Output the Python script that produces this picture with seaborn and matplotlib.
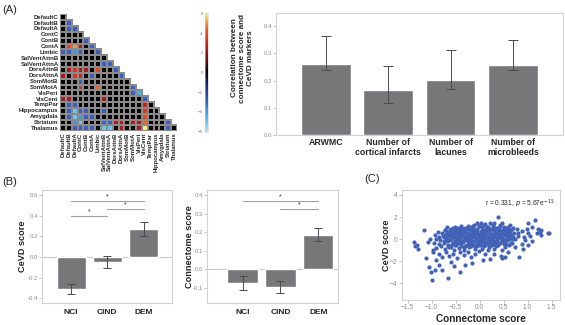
import numpy as np
import pandas as pd
import matplotlib
matplotlib.use("Agg")
import matplotlib.pyplot as plt
import seaborn as sns
from matplotlib.colors import LinearSegmentedColormap, to_rgba

# ---- (A) network t-map, lower triangle, one list per row ----
networks = ["DefaultC", "DefaultB", "DefaultA", "ContC", "ContB", "ContA", "Limbic",
            "SalVentAttnB", "SalVentAttnA", "DorsAttnB", "DorsAttnA", "SomMotB", "SomMotA",
            "VisPeri", "VisCent", "TempPar", "Hippocampus", "Amygdala", "Striatum", "Thalamus"]

tri_rows = [
    [0],
    [0, -3],
    [0, -3, -3],
    [0, 0, 0, 0],
    [0, 0, 0, 0, -3],
    [0, 4, 5, 2.5, 0, -3],
    [-3, -3, -4, -3, 0, 0, -3],
    [0, 0, 0, 0, 0, 0, 0, 0],
    [0, 0, 0, 0, 0, 0, 0, -3, -3],
    [0, 2.5, 3.5, 2.5, 2.5, 0, 4, 0, 0, -3],
    [2.5, 0, 3.5, 3, 0, -3, 0, 0, 0, 0, -3],
    [0, 0, 0, -3, 0, 0, 0, 0, 0, 0, 0, 0],
    [0, 0, 0, 3.5, 0, 0, 4.5, 0, 0, 0, 0, 0, -3],
    [0, 0, 0, 0, 0, 0, 0, 0, 0, 0, 0, 0, -3, -4.5],
    [2.5, 2.5, 0, 0, 0, 0, 0, 2.5, 0, 0, 0, 0, 0, 0, -3],
    [0, -3, -3, 0, 0, 0, 0, 0, 0, 0, 0, 0, 0, 0, 3, 0],
    [0, -3, -5, -3, -3, 0, 0, -3, 0, 0, 0, 0, 0, 0, 3.5, 0, 0],
    [0, -3, -5, -4, -3, -3, 0, 0, 0, 0, 0, 0, 0, 0, 4, 0, 0, 0],
    [0, 0, -4, -5, 0, 0, 0, -3, -3, 2.5, 2.5, 0, 2.5, 2.5, 4.5, 0, 0, 0, -3],
    [0, 0, -3, -3, -3, -3, 0, -5, -5, 0, 2.5, 0, 0, 2.5, 6, 0, 0, 0, -3, 0],
]

# ---- (A) correlation with CeVD markers ----
markers = ["ARWMC", "Number of\ncortical infarcts", "Number of\nlacunes", "Number of\nmicrobleeds"]
corr = [0.262, 0.164, 0.202, 0.259]
corr_lo = [0.240, 0.118, 0.170, 0.238]
corr_hi = [0.362, 0.255, 0.311, 0.350]

# ---- (B) group means ----
groups = ["NCI", "CIND", "DEM"]
cevd = [-0.305, -0.047, 0.271]
cevd_lo = [-0.360, -0.102, 0.199]
cevd_hi = [-0.257, 0.007, 0.343]
cevd_sig = [(0, 2, 0.545), (1, 2, 0.462), (0, 1, 0.397)]

conn = [-0.074, -0.097, 0.185]
conn_lo = [-0.115, -0.128, 0.150]
conn_hi = [-0.036, -0.066, 0.222]
conn_sig = [(0, 2, 0.368), (1, 2, 0.324)]

# ---- (C) connectome score vs CeVD score ----
scat_x = [-0.69, -0.6, -0.51, -0.45, -0.38, -0.3, -0.25, -0.18, -0.12, -0.06, 0.03, 0.08, 0.12, 0.18,
          0.22, 0.28, 0.33, 0.39, 0.42, 0.46, 0.5, 0.55, 0.63, 0.7, 0.78, -0.55, -0.02, 0.3, 0.15, -0.35,
          -0.86, -0.78, -0.72, -0.66, -0.6, -0.55, -0.5, -0.45, -0.4, -0.36, -0.3, -0.26, -0.2, -0.16,
          -0.1, -0.05, 0.0, 0.05, 0.1, 0.14, 0.2, 0.24, 0.3, 0.35, 0.4, 0.45, 0.5, 0.55, 0.6, 0.66, 0.72,
          0.81, 0.88, -0.62, -0.42, -0.08, 0.27, 0.58, -0.7, 0.12,
          -0.94, -0.85, -0.76, -0.7, -0.64, -0.58, -0.52, -0.47, -0.42, -0.37, -0.32, -0.27, -0.22, -0.17,
          -0.12, -0.07, -0.02, 0.03, 0.08, 0.13, 0.18, 0.23, 0.28, 0.33, 0.38, 0.43, 0.48, 0.53, 0.58,
          0.63, 0.68, 0.74, 0.8, 1.01, 1.28, -1.03, -0.9, -0.6, 0.0, 0.35, -0.25, 0.55,
          -1.08, -0.95, -0.82, -0.75, -0.68, -0.62, -0.56, -0.5, -0.45, -0.4, -0.34, -0.28, -0.23, -0.18,
          -0.13, -0.08, -0.03, 0.02, 0.07, 0.12, 0.17, 0.22, 0.27, 0.32, 0.37, 0.42, 0.47, 0.52, 0.6,
          0.66, 0.875, 0.95, -0.85, 0.05, -0.38,
          -0.9, -0.8, -0.72, -0.66, -0.6, -0.54, -0.5, -0.44, -0.38, -0.32, -0.27, -0.22, -0.16, -0.1,
          -0.05, 0.0, 0.05, 0.1, 0.15, 0.2, 0.25, 0.3, 0.38, 0.46, 0.52, 0.74, 0.62, -0.97, 0.18,
          -1.12, -0.97, -0.92, -0.85, -0.78, -0.7, -0.63, -0.55, -0.47, -0.4, -0.33, -0.25, -0.18, -0.1,
          -0.02, 0.08, 0.22, 0.3, 0.44, 0.47, 0.53, 0.83, 0.6, 0.12,
          -1.06, -1.01, -1.0, -0.93, -0.79, -0.67, -0.53, -0.41, -0.31, -0.15, -0.6, -0.85,
          -1.17, -1.36, -1.3, -1.35, -1.29,
          1.15, 1.26, 1.43, 1.0, 1.1, 1.21, 1.29, 1.44, 0.98, 1.05, 1.2, 0.92, 1.1, 0.9, 1.0,
          -0.48, -0.33, -0.14, 0.07, 0.22, 0.38, 0.52, -0.55, -0.4, -0.12, 0.05, 0.25, 0.45, 0.65, -0.65,
          -0.48, -0.2, 0.1, 0.3, 0.5, -0.3, -0.05, 0.25, -0.75, 0.7,
          -0.73, -0.67, -0.61, -0.57, -0.53, -0.49, -0.43, -0.39, -0.35, -0.31, -0.27, -0.23, -0.19,
          -0.15, -0.11, -0.07, -0.03, 0.01, 0.05, 0.09, 0.13, 0.17, 0.21, 0.25, 0.29, 0.33, 0.37, 0.41,
          0.45, 0.49, 0.53, 0.57, 0.61, 0.65,
          -0.71, -0.65, -0.59, -0.55, -0.51, -0.47, -0.41, -0.37, -0.33, -0.29, -0.25, -0.21, -0.17,
          -0.13, -0.09, -0.05, -0.01, 0.03, 0.07, 0.11, 0.15, 0.19, 0.23, 0.27, 0.31, 0.35, 0.39, 0.43,
          0.47, 0.51, 0.55, 0.59, 0.63, 0.67,
          -0.75, -0.69, -0.63, -0.59, -0.55, -0.51, -0.45, -0.41, -0.37, -0.33, -0.29, -0.25, -0.21,
          -0.17, -0.13, -0.09, -0.05, -0.01, 0.03, 0.07, 0.11, 0.15, 0.19, 0.23, 0.27, 0.31, 0.35, 0.39,
          0.43, 0.47, 0.51, 0.55, 0.59, 0.63]
scat_y = [1.06, 0.95, 1.12, 1.0, 1.18, 1.05, 1.2, 1.1, 1.3, 1.42, 1.48, 1.2, 1.35, 1.1,
          1.42, 1.25, 1.05, 1.97, 1.2, 1.42, 1.1, 0.95, 1.27, 1.0, 0.9, 1.05, 1.15, 1.5, 1.0, 0.95,
          0.67, 0.55, 0.8, 0.5, 0.7, 0.45, 0.85, 0.6, 0.75, 0.5, 0.85, 0.6, 0.45, 0.8,
          0.6, 0.9, 0.5, 0.75, 0.55, 0.85, 0.65, 0.45, 0.8, 0.55, 0.9, 0.65, 0.45, 0.75, 0.55, 0.8, 0.6,
          0.52, 0.7, 0.6, 0.45, 0.45, 0.95, 0.9, 0.45, 0.7,
          0.36, 0.2, 0.3, 0.1, 0.35, 0.15, 0.3, 0.05, 0.25, 0.38, 0.1, 0.3, 0.05, 0.25,
          0.4, 0.12, 0.3, 0.05, 0.35, 0.15, 0.3, 0.05, 0.25, 0.4, 0.1, 0.3, 0.05, 0.35, 0.15,
          0.3, 0.05, 0.06, 0.25, 0.52, 0.36, 0.06, 0.05, 0.0, 0.2, 0.2, 0.18, 0.0,
          -0.24, -0.3, -0.1, -0.35, -0.2, -0.05, -0.3, -0.15, -0.38, -0.05, -0.25, -0.1, -0.35, -0.15,
          -0.3, -0.05, -0.25, -0.4, -0.1, -0.3, -0.15, -0.38, -0.05, -0.25, -0.1, -0.35, -0.15, -0.3, -0.1,
          -0.3, -0.39, -0.1, -0.4, -0.22, -0.2,
          -0.8, -0.6, -0.9, -0.55, -0.75, -1.0, -0.5, -0.8, -0.6, -0.95, -0.5, -0.75, -0.55, -0.9,
          -0.65, -0.5, -0.85, -0.6, -0.45, -0.7, -0.55, -0.85, -0.5, -1.0, -0.7, -0.7, -0.5, -1.0, -0.95,
          -1.67, -1.15, -1.9, -1.3, -1.6, -1.2, -1.5, -1.3, -1.7, -1.15, -1.45, -1.2, -1.6, -1.3,
          -1.1, -1.9, -1.76, -1.3, -1.55, -1.67, -1.6, -1.6, -1.2, -1.35,
          -2.5, -2.97, -3.67, -2.8, -2.76, -3.5, -2.45, -2.97, -2.36, -2.15, -2.1, -2.3,
          0.82, -0.24, -0.55, -0.64, -0.85,
          1.73, 0.67, 0.58, 1.42, 1.12, 0.88, 0.82, 0.6, 0.9, 0.3, 0.6, 0.2, -0.2, -0.9, -0.5,
          0.55, 0.62, 0.52, 0.6, 0.78, 0.68, 0.58, 0.2, 0.15, 0.2, 0.42, 0.15, 0.42, 0.42, -0.1,
          -0.25, -0.25, -0.15, -0.4, -0.45, -0.6, -0.4, -0.2, 0.2, 0.2,
          0.85, 0.25, 0.8, -0.45, 0.6, 0.1, 0.95, -0.3, 0.35, 0.7, -0.5, 1.0, 0.15,
          0.55, -0.2, 0.85, 0.45, -0.1, 1.1, 0.3, -0.45, 0.65, 0.95, 0.4, -0.15, 0.6, 1.05, 0.5,
          0.2, 0.85, -0.25, 0.45, 0.95, 0.15,
          0.35, -0.6, 0.05, 0.8, -0.2, 0.7, 0.4, 0.95, -0.05, 0.2, 0.9, 0.5, -0.6,
          1.15, 0.65, 0.0, -0.45, 0.75, 0.2, -0.3, 0.9, 0.05, -0.2, 1.2, 0.8, -0.4, 0.1, 1.25,
          -0.1, 0.55, 0.35, 1.1, 0.6, -0.35,
          -0.15, 0.65, -0.75, 0.4, 0.9, -0.55, 0.2, 0.55, 0.9, -0.7, 0.25, -0.15, 0.85,
          -0.35, 1.05, -0.6, 0.7, 1.2, -0.5, 0.85, 0.45, 1.1, 0.1, -0.55, 0.45, 0.95, -0.6, -0.35,
          0.75, 0.1, 1.0, -0.45, 0.25, 0.7]

BAR = "#77777a"
FRAME = "#d2d2d2"
TICK = "#8c8c8c"

sns.set_style("white")
plt.rcParams["font.family"] = ["Liberation Sans", "DejaVu Sans"]

fig = plt.figure(figsize=(5.65, 3.25), dpi=100)


def style_axes(ax, tsize=4.3):
    for s in ax.spines.values():
        s.set_color(FRAME)
        s.set_linewidth(0.8)
    ax.tick_params(axis="y", left=True, length=2, width=0.5, color="#b0b0b0",
                   labelsize=tsize, labelcolor=TICK, pad=1)
    ax.tick_params(axis="x", length=0, pad=3)


# ---------- (A) heatmap ----------
n = len(networks)
tmap = np.zeros((n, n))
for i, row in enumerate(tri_rows):
    tmap[i, :len(row)] = row
mask = np.triu(np.ones((n, n), dtype=bool), k=1)

cmap = LinearSegmentedColormap.from_list(
    "tmap", [(0.0, "#b4e6ee"), (0.12, "#4ab8ee"), (0.25, "#3a5ec8"), (0.38, "#1c2a78"),
             (0.5, "#000000"), (0.62, "#6e1010"), (0.75, "#cc2020"), (0.87, "#f05a20"),
             (1.0, "#f8f278")])

axh = fig.add_axes([0.1062, 0.596, 0.2071, 0.36])
sns.heatmap(pd.DataFrame(tmap, index=networks, columns=networks), mask=mask, cmap=cmap,
            vmin=-6, vmax=6, cbar=False, linewidths=0.2, linecolor="#8a8a8a",
            square=False, ax=axh)
# no grid lines on the blank upper triangle
mesh = axh.collections[0]
edge = np.zeros((n * n, 4))
edge[~mask.ravel()] = to_rgba("#8a8a8a")
mesh.set_edgecolor(edge)

axh.set_xticks(np.arange(n) + 0.5)
axh.set_yticks(np.arange(n) + 0.5)
axh.set_xticklabels(networks, rotation=90, fontsize=4.3, fontweight="bold")
axh.set_yticklabels(networks, rotation=0, fontsize=4.3, fontweight="bold")
axh.tick_params(length=0, pad=1)
axh.set_xlabel("")
axh.set_ylabel("")

cax = fig.add_axes([0.3628, 0.595, 0.0045, 0.364])
cb = fig.colorbar(mesh, cax=cax, ticks=[-6, -4, -2, 0, 2, 4, 6])
cax.yaxis.set_ticks_position("left")
cax.tick_params(labelsize=3.2, labelcolor="#777777", length=0, pad=1.5)
cb.outline.set_edgecolor("#cccccc")
cb.outline.set_linewidth(0.4)

# ---------- (A) bar chart ----------
axa = fig.add_axes([0.4885, 0.5846, 0.5074, 0.376])
dfa = pd.DataFrame({"marker": markers, "r": corr})
sns.barplot(data=dfa, x="marker", y="r", color=BAR, saturation=1, width=0.8,
            errorbar=None, ax=axa)
xa = np.arange(len(markers))
axa.errorbar(xa, corr, yerr=[np.array(corr) - np.array(corr_lo), np.array(corr_hi) - np.array(corr)],
             fmt="none", ecolor="#4a4a4a", elinewidth=0.7, capsize=3.5, capthick=0.7)
axa.set_ylim(0, 0.449)
axa.set_xlim(-0.8, 3.8)
axa.set_yticks([0.0, 0.1, 0.2, 0.3, 0.4])
axa.set_xlabel("")
axa.set_ylabel("Correlation between\nconnectome score and\nCeVD markers",
               fontsize=5.9, fontweight="bold", linespacing=1.15)
axa.yaxis.set_label_coords(-0.077, 0.63)
style_axes(axa)
axa.tick_params(axis="x", labelsize=6.3, pad=2)
for t in axa.get_xticklabels():
    t.set_fontweight("bold")


# ---------- (B) group bar charts ----------
def group_panel(rect, vals, lo, hi, sig, ylim, yticks, xlim, ylabel, lab_x):
    ax = fig.add_axes(rect)
    d = pd.DataFrame({"group": groups, "score": vals})
    sns.barplot(data=d, x="group", y="score", color=BAR, saturation=1, width=0.8,
                errorbar=None, ax=ax)
    ax.axhline(0, color="#c8c8c8", lw=0.8, zorder=0.5)
    xg = np.arange(len(groups))
    ax.errorbar(xg, vals, yerr=[np.array(vals) - np.array(lo), np.array(hi) - np.array(vals)],
                fmt="none", ecolor="#4a4a4a", elinewidth=0.7, capsize=3, capthick=0.7)
    span = ylim[1] - ylim[0]
    for a, b, h in sig:
        ax.plot([a, b], [h, h], color="#a0a0a0", lw=0.8)
        ax.text((a + b) / 2, h + 0.005 * span, "*", ha="center", va="bottom",
                fontsize=5, color="#333333")
    ax.set_ylim(*ylim)
    ax.set_xlim(*xlim)
    ax.set_yticks(yticks)
    ax.set_yticklabels([f"{v:.1f}" for v in yticks])
    ax.set_xlabel("")
    ax.set_ylabel(ylabel, fontsize=6.6, fontweight="bold")
    ax.yaxis.set_label_coords(lab_x, 0.5)
    style_axes(ax)
    ax.tick_params(axis="x", labelsize=6, pad=4)
    for t in ax.get_xticklabels():
        t.set_fontweight("bold")
    return ax


axb1 = group_panel([0.0749, 0.0677, 0.229, 0.3477], cevd, cevd_lo, cevd_hi, cevd_sig,
                   (-0.445, 0.648), [-0.4, -0.2, 0.0, 0.2, 0.4, 0.6], (-0.8, 2.78),
                   "CeVD score", -0.12)
axb2 = group_panel([0.3669, 0.0677, 0.2319, 0.3477], conn, conn_lo, conn_hi, conn_sig,
                   (-0.183, 0.427), [-0.1, 0.0, 0.1, 0.2, 0.3, 0.4], (-0.93, 2.53),
                   "Connectome score", -0.105)

# ---------- (C) scatter ----------
axc = fig.add_axes([0.711, 0.0769, 0.2796, 0.3385])
sns.scatterplot(x=scat_x, y=scat_y, color="#4262b8", s=9, linewidth=0, ax=axc)
axc.set_xlim(-1.625, 1.67)
axc.set_ylim(-5.5, 4.45)
axc.set_xticks([-1.5, -1.0, -0.5, 0.0, 0.5, 1.0, 1.5])
axc.set_yticks([-4, -2, 0, 2, 4])
style_axes(axc, tsize=4.8)
axc.tick_params(axis="x", bottom=True, length=2, width=0.5, color="#b0b0b0",
                labelsize=4.8, labelcolor=TICK, pad=1)
axc.set_xlabel("Connectome score", fontsize=7.2, fontweight="bold", labelpad=2)
axc.set_ylabel("CeVD score", fontsize=6.6, fontweight="bold")
axc.yaxis.set_label_coords(-0.065, 0.5)
axc.text(0.97, 0.93, r"r = 0.331, $p$ = 5.67e$^{-15}$", transform=axc.transAxes,
         ha="right", va="top", fontsize=4.8, color="#222222")

# panel letters
fig.text(0.004, 0.985, "(A)", fontsize=8, va="top")
fig.text(0.004, 0.455, "(B)", fontsize=8, va="top")
fig.text(0.645, 0.465, "(C)", fontsize=8, va="top")

fig.savefig("out.png", dpi=100)
